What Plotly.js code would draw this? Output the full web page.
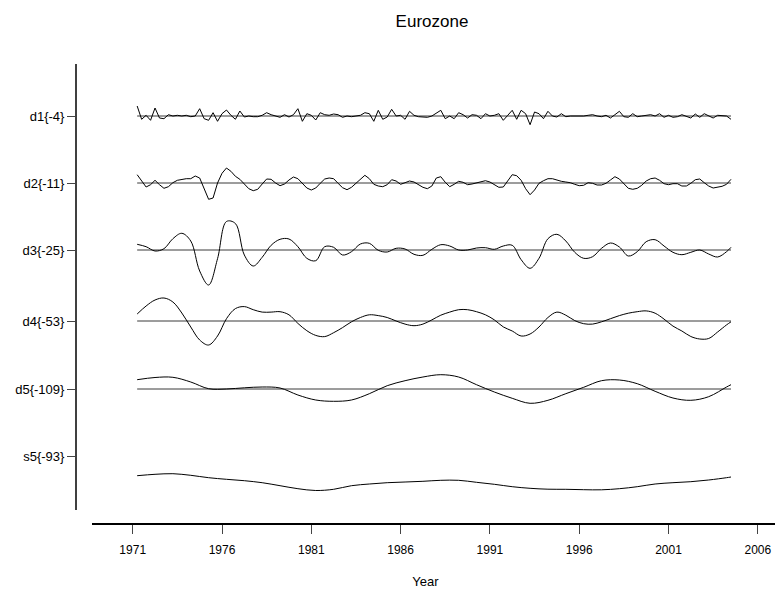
<!DOCTYPE html>
<html>
<head>
<meta charset="utf-8">
<script src="https://cdn.plot.ly/plotly-3.0.1.min.js"></script>
<style>html,body{margin:0;padding:0;background:#fff;}#chart{width:775px;height:592px;}</style>
</head>
<body>
<div id="chart"></div>
<script>
// ---- data ----
const levelLabels = ["d1{-4}", "d2{-11}", "d3{-25}", "d4{-53}", "d5{-109}", "s5{-93}"];
const xTickYears = [1971, 1976, 1981, 1986, 1991, 1996, 2001, 2006];

// d1 and d2: quarterly, 1971.25 .. 2004.5
const d1 = [10, -3.3, 0.7, -4.3, 8, -2, -2.7, 1.3, 0, 0.7,
  0, 0.7, -0.7, 0, 7.3, -2.7, -4.3, 3.3, -5.3, 2.3,
  6, 0.7, -3.3, 5, -1, 0, -0.7, -0.7, 0.7, 3.3,
  1.3, 0, -1.3, 1.3, -1, 1.3, 7.3, -5.3, 2.3, 0.7,
  -4, 3.3, 1.3, 0.7, 2, 1.3, -1.3, 0, -0.7, 0,
  0.7, 3.3, 2.3, -5.3, 5.7, -3.3, -1, 6.7, 0, 0.7,
  -3.3, 4.7, 0.7, -0.7, -1.3, -1.3, 0, 3.3, 5.7, -2.7,
  0, -2.7, 3.3, 1.3, -2, 1.3, 0.7, -2.7, 2.3, 0,
  0.7, 2.3, -4.3, 0.7, 5.7, -3.3, 5.7, 2.3, -8.7, 4,
  2.3, -2.7, 4.7, 0, -1, 2.3, -0.7, 0, 0, -0.7,
  0, 0.7, 1.3, 0, -0.7, 0.7, -2, 1.3, 4.7, -0.7,
  -1.3, 2.3, -0.7, 0, 0.7, 1.3, 0, 2.3, -1.3, 0.7,
  -1.3, -0.7, 1.3, 0, -2, 2, -1.3, 2.3, 0, -2,
  0.7, 0, 0, -3.3];
const d2 = [8.3, 2.7, -4, -1.7, 2.7, -1.7, -5.3, -3.7, 0.3, 2.7,
  3.7, 4.3, 4.3, 7, 5, -5.7, -16.3, -15, 0, 9.7,
  15, 11.7, 6.7, 3.7, -0.7, -5.7, -7.7, -6.3, -1, 4,
  3.7, 0, -2.7, -1, 3, 6, 4.3, -0.7, -5, -7,
  -5, -0.3, 4, 5, 4.3, -0.3, -4.7, -6.7, -4.3, -0.3,
  3.7, 7.7, 4.3, -1.3, -3, -3.7, -1.7, 3.3, 2, -1.3,
  0.3, 2, 1, -1.7, -4.3, -5.7, -3, 5, 6.3, 0.7,
  -3.7, -1.3, 1.7, 0.7, -1.7, -1, 0.3, 1.7, 2.3, 1,
  -1.7, -4.3, -4, 2.3, 8.3, 7.3, 2.7, -5.7, -11.7, -7,
  -0.3, 2.3, 4.3, 4.3, 2.7, 1.7, 1, 0.3, -1.3, -2.7,
  -2.3, 0.3, -0.3, -2, -2, -0.3, 3, 6.3, 4, -1,
  -5.3, -6.3, -5.3, -2.3, 2, 4.3, 5, 2.7, -0.7, -1.7,
  -0.7, -0.7, -3, -3, -0.3, 3.3, 4, 0.3, -3, -5,
  -4.3, -3.3, -1.3, 3.7];

// d3 and d4: half-yearly, 1971.25 .. 2004.25, then 2004.5
const d3 = [5.7, 3.3, -1, 1.3, 11.3, 16.7, 9, -21, -35, -8.7,
  28.5, 26.5, -5, -16, -7.3, 4.7, 10.7, 11, 3.3, -8.3,
  -10.7, 3.3, 2.7, -5, -1.7, 6, 6.7, -0.3, -2, 1.7,
  1, -4.3, -5.3, 0.7, 5.3, 4, 0, 0, 2, 2.3,
  0.7, 4, 4.7, -9.7, -18.3, -8.3, 11.3, 15.7, 9, -2.3,
  -8.3, -6.7, 1.7, 7, 3, -6, -1.7, 8.3, 10.3, 4,
  -2.3, -4.7, -2.3, 0, -4, -7, -1.7, 2.7];
const d4 = [7, 15, 21, 23, 19, 8, -6, -19, -24, -15,
  2.3, 12.4, 14.4, 11.3, 8.9, 8.9, 9.3, 6.2, -2.4, -9.7,
  -14.4, -15.6, -11.7, -6.6, -0.8, 3.5, 6.2, 5.4, 3.5, 0,
  -3.1, -4.7, -3.1, 1.1, 5.8, 8.9, 11.3, 11.3, 9.3, 6.2,
  1.1, -5.9, -10, -15, -13, -6, 3.5, 8.9, 5.8, 0.4,
  -2.7, -3.1, -0.8, 2.3, 5.4, 7.8, 9.3, 10.1, 7.8, 1.9,
  -5.1, -10, -15.5, -18, -17.5, -11, -3.9, -0.8];

// d5 and s5: yearly, 1971.25 .. 2004.25, then 2004.5
const d5 = [9.3, 11.5, 11.7, 7, 0.3, 0, 1.2, 2, 1, -6,
  -11, -12.3, -11, -4.7, 3.3, 8.3, 12, 14.3, 12, 4.3,
  -3, -9.3, -14.3, -11.3, -4.7, 1.7, 8.3, 9, 5.3, -2.3,
  -9, -11.3, -7.7, 2, 4.3];
const s5 = [-19.7, -18.3, -17.7, -19.3, -21.7, -23.3, -24.7, -26.7, -29.7, -32.7,
  -34.5, -33.3, -29.7, -28, -26.7, -26, -25.3, -24.3, -24.3, -26.3,
  -28.3, -30.7, -32.3, -33.2, -33.3, -33.7, -33.8, -32.7, -30.7, -28,
  -26.7, -25.7, -24, -21.7, -21];

// ---- time axes ----
const yrsQ = []; for (let i = 0; i < d1.length; i++) yrsQ.push(1971.25 + 0.25 * i);
const yrsH = []; for (let j = 0; j < d3.length - 1; j++) yrsH.push(1971.25 + 0.5 * j); yrsH.push(2004.5);
const yrsA = []; for (let k = 0; k < d5.length - 1; k++) yrsA.push(1971.25 + k); yrsA.push(2004.5);

// ---- vertical stacking of the levels (layout, not data) ----
const levelOffsets = [116, 183, 250, 321, 389, 456];

const series = [
  {x: yrsQ, v: d1, shape: "linear"},
  {x: yrsQ, v: d2, shape: "linear"},
  {x: yrsH, v: d3, shape: "spline"},
  {x: yrsH, v: d4, shape: "spline"},
  {x: yrsA, v: d5, shape: "spline"},
  {x: yrsA, v: s5, shape: "spline"}
];

const traces = [];
// zero lines for the detail levels
for (let k = 0; k < 5; k++) {
  traces.push({
    x: [yrsQ[0], yrsQ[yrsQ.length - 1]], y: [-levelOffsets[k], -levelOffsets[k]],
    mode: "lines", line: {color: "#3a3a3a", width: 1}, hoverinfo: "skip", showlegend: false
  });
}
series.forEach((s, k) => {
  traces.push({
    x: s.x, y: s.v.map(v => v - levelOffsets[k]),
    mode: "lines", line: {color: "#000", width: 1, shape: s.shape, smoothing: 1},
    hoverinfo: "skip", showlegend: false
  });
});

const FONT = "Liberation Sans, Arial, Helvetica, sans-serif";
const pxPerYear = 17.86;
const xMin = 1971 - (132.7 - 76) / pxPerYear;
const xMax = xMin + 699 / pxPerYear;

const layout = {
  width: 775, height: 592,
  margin: {l: 76, r: 0, t: 64, b: 68, pad: 0},
  paper_bgcolor: "#fff", plot_bgcolor: "#fff",
  font: {family: FONT, color: "#000"},
  title: {text: "Eurozone", x: 432 / 775, xref: "container", xanchor: "center",
          y: 1 - 21 / 592, yref: "container", yanchor: "middle",
          font: {family: FONT, size: 17, color: "#000"}},
  xaxis: {
    range: [xMin, xMax], tickmode: "array", tickvals: xTickYears,
    ticktext: xTickYears.map(String),
    ticks: "outside", ticklen: 9, tickwidth: 1, tickcolor: "#444",
    ticklabelstandoff: 6,
    showgrid: false, zeroline: false, showline: false,
    tickfont: {family: FONT, size: 12, color: "#000"},
    title: {text: "Year", font: {family: FONT, size: 13, color: "#000"}, standoff: 20},
    automargin: false, fixedrange: true
  },
  yaxis: {
    range: [-524, -64], tickmode: "array",
    tickvals: levelOffsets.map(o => -o), ticktext: levelLabels,
    ticks: "outside", ticklen: 8, tickwidth: 1, tickcolor: "#444",
    showgrid: false, zeroline: false, showline: false,
    tickfont: {family: FONT, size: 13, color: "#000"},
    automargin: false, fixedrange: true
  },
  shapes: [
    {type: "line", xref: "paper", yref: "paper", x0: 16 / 699, x1: 1, y0: 0, y1: 0,
     line: {color: "#000", width: 2}},
    {type: "line", xref: "paper", yref: "y", x0: 0, x1: 0, y0: -64, y1: -510,
     line: {color: "#000", width: 1.5}}
  ]
};

Plotly.newPlot("chart", traces, layout, {staticPlot: true, displayModeBar: false});
</script>
</body>
</html>
